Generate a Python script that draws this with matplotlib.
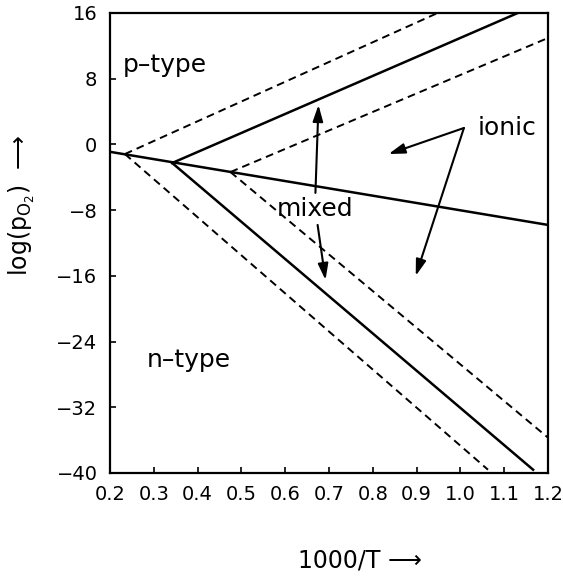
import matplotlib.pyplot as plt

# boundary lines (x = 1000/T, y = log pO2)
ionic_x = [0.2, 1.2]
ionic_y = [-0.9, -9.8]

p_solid_x = [0.342, 1.131]
p_solid_y = [-2.26, 16.0]
p_dash_outer_x = [0.234, 0.948]
p_dash_outer_y = [-1.17, 16.0]
p_dash_inner_x = [0.475, 1.2]
p_dash_inner_y = [-3.36, 12.96]

n_solid_x = [0.342, 1.166]
n_solid_y = [-2.26, -39.6]
n_dash_outer_x = [0.234, 1.063]
n_dash_outer_y = [-1.17, -39.6]
n_dash_inner_x = [0.475, 1.2]
n_dash_inner_y = [-3.36, -35.7]

x_ticks = [0.2, 0.3, 0.4, 0.5, 0.6, 0.7, 0.8, 0.9, 1.0, 1.1, 1.2]
y_ticks = [-40, -32, -24, -16, -8, 0, 8, 16]

# arrows: (tail, head) in data units
mixed_arrows = [((0.669, -5.9), (0.676, 4.8)),
                ((0.674, -9.8), (0.692, -16.5))]
ionic_arrows = [((1.008, 2.0), (0.836, -1.17)),
                ((1.008, 2.0), (0.898, -16.0))]

fig = plt.figure(figsize=(5.63, 5.78), dpi=100)
ax = fig.add_axes([110 / 563, 1 - 473 / 578, 438 / 563, 460 / 578])

solid = dict(color='black', lw=1.8)
dashed = dict(color='black', lw=1.4, dashes=(4, 2.6))

ax.plot(ionic_x, ionic_y, **solid)
ax.plot(p_solid_x, p_solid_y, **solid)
ax.plot(n_solid_x, n_solid_y, **solid)
ax.plot(p_dash_outer_x, p_dash_outer_y, **dashed)
ax.plot(p_dash_inner_x, p_dash_inner_y, **dashed)
ax.plot(n_dash_outer_x, n_dash_outer_y, **dashed)
ax.plot(n_dash_inner_x, n_dash_inner_y, **dashed)

arrow_props = dict(arrowstyle='-|>,head_length=0.7,head_width=0.22',
                   color='black', lw=1.5, mutation_scale=14,
                   shrinkA=0, shrinkB=0)
for tail, head in mixed_arrows + ionic_arrows:
    ax.annotate('', xy=head, xytext=tail, arrowprops=arrow_props)

ax.text(0.669, -7.86, 'mixed', fontsize=18, ha='center', va='center')
ax.text(1.04, 2.0, 'ionic', fontsize=18, ha='left', va='center')
ax.text(0.23, 9.7, 'p\u2013type', fontsize=18, ha='left', va='center')
ax.text(0.285, -26.2, 'n\u2013type', fontsize=18, ha='left', va='center')

ax.set_xlim(0.2, 1.2)
ax.set_ylim(-40, 16)
ax.set_xticks(x_ticks)
ax.set_xticklabels(['%.1f' % v for v in x_ticks])
ax.set_yticks(y_ticks)
ax.set_yticklabels([str(v).replace('-', '\u2212') for v in y_ticks])
ax.tick_params(direction='in', length=4, width=1.2, labelsize=14)
ax.tick_params(axis='x', pad=9)
ax.tick_params(axis='y', pad=9)
for s in ax.spines.values():
    s.set_linewidth(1.6)

fig.text(360 / 563, 1 - 560 / 578, '1000/T \u27f6', fontsize=17,
         ha='center', va='center')
fig.text(22 / 563, 1 - 205 / 578, r'log(p$_{\mathrm{O}_2}$)  ' + '\u27f6',
         fontsize=17, rotation=90, ha='center', va='center')

fig.savefig('out.png', dpi=100)
